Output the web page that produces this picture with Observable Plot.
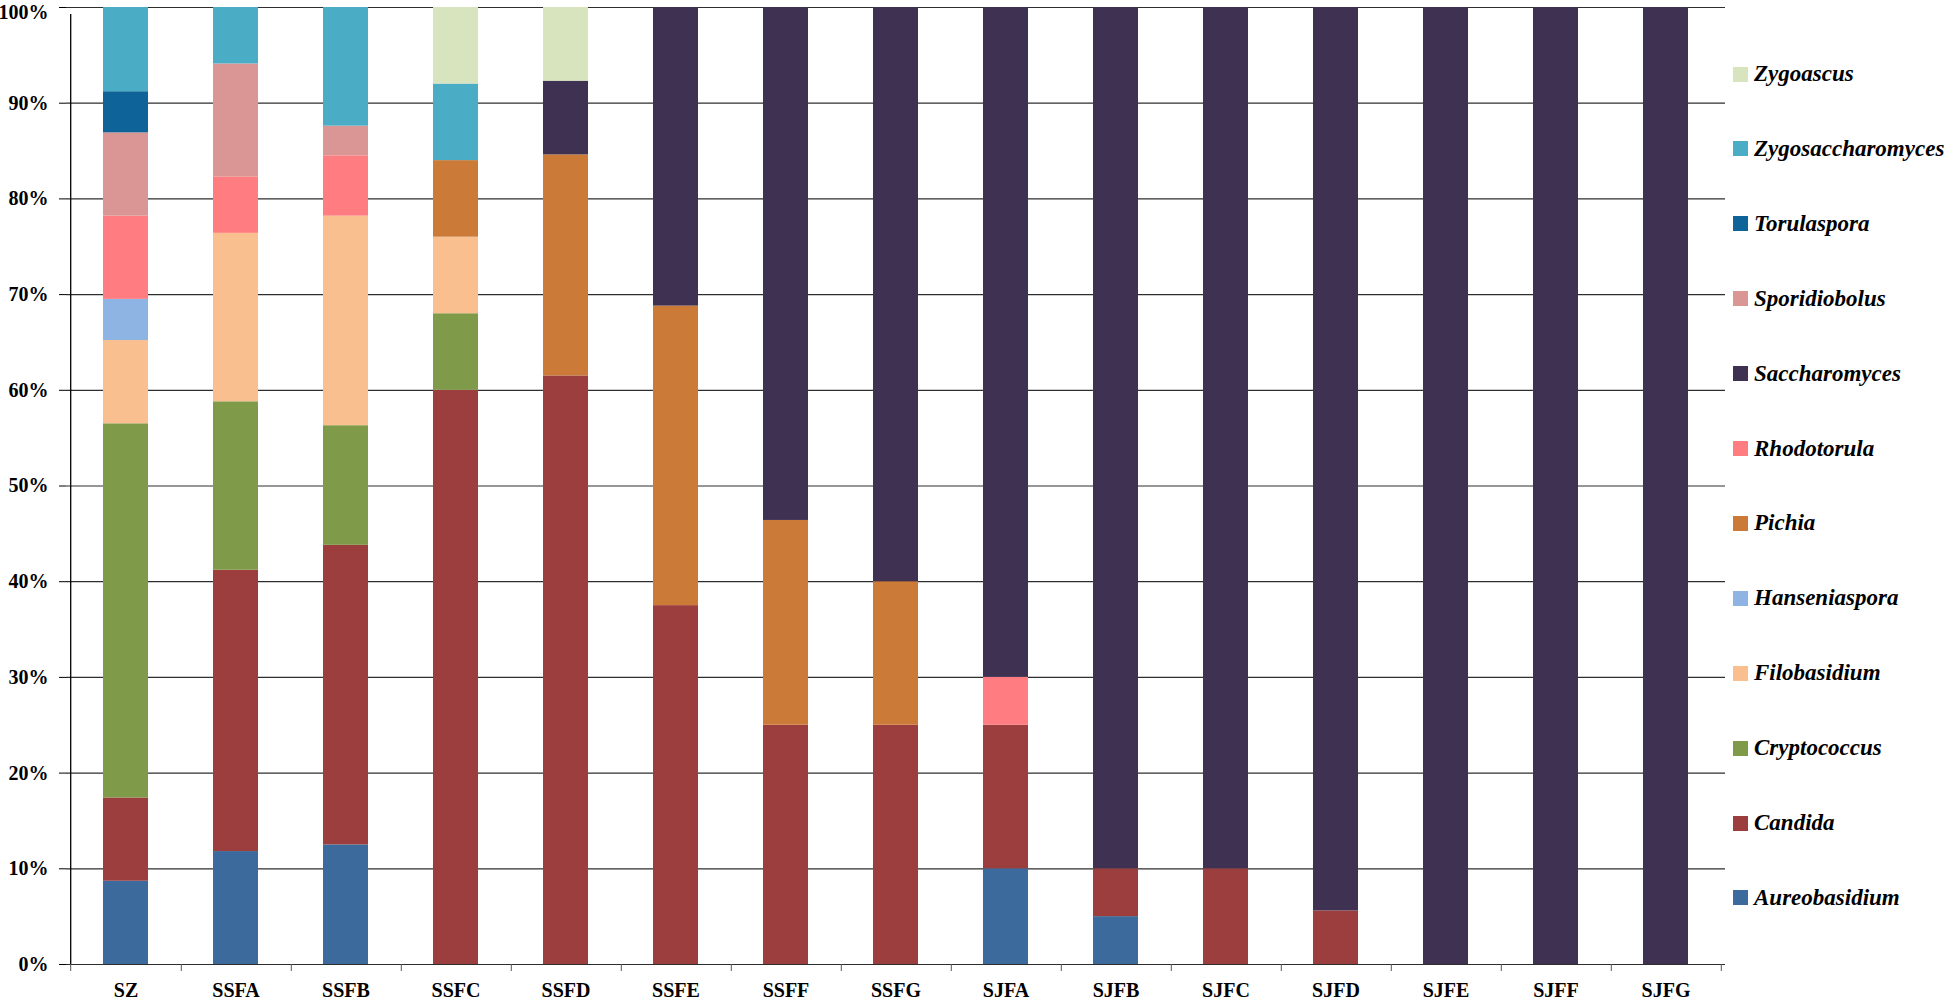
<!DOCTYPE html>
<html>
<head>
<meta charset="utf-8">
<script src="https://cdn.jsdelivr.net/npm/d3@7"></script>
<script src="https://cdn.jsdelivr.net/npm/@observablehq/plot@0.6"></script>
<style>
html, body { margin: 0; padding: 0; background: #fff; }
#wrap { position: relative; width: 1950px; height: 1003px; overflow: hidden; }
#chart { position: absolute; left: 0; top: 0; }
#legend { position: absolute; left: 0; top: 0; }
.item { position: absolute; display: flex; align-items: center; height: 22px; line-height: 22px;
  font-family: "Liberation Serif", "Times New Roman", serif; font-weight: bold; font-style: italic;
  font-size: 23px; color: #000; white-space: nowrap; }
.sw { width: 15px; height: 15px; margin-right: 6px; flex: none; }
</style>
</head>
<body>
<div id="wrap"><div id="chart"></div><div id="legend"></div></div>
<script>
// Samples (x categories)
const samples = ["SZ", "SSFA", "SSFB", "SSFC", "SSFD", "SSFE", "SSFF", "SSFG",
                 "SJFA", "SJFB", "SJFC", "SJFD", "SJFE", "SJFF", "SJFG"];

// Genera in stacking order (bottom to top)
const genera = ["Aureobasidium", "Candida", "Cryptococcus", "Filobasidium", "Hanseniaspora",
                "Pichia", "Rhodotorula", "Saccharomyces", "Sporidiobolus", "Torulaspora",
                "Zygosaccharomyces", "Zygoascus"];

const colors = ["#3d6a9c", "#9c3e3e", "#7f9a48", "#f9bf8f", "#8eb4e3",
                "#cb7a37", "#ff7c80", "#3f3151", "#d99694", "#0e6398",
                "#4bacc6", "#d7e4bd"];

// Relative abundance (%) per sample, one array per genus
const Aureobasidium     = [8.7, 11.8, 12.5, 0, 0, 0, 0, 0, 10, 5, 0, 0, 0, 0, 0];
const Candida           = [8.7, 29.4, 31.3, 60, 61.5, 37.5, 25, 25, 15, 5, 10, 5.6, 0, 0, 0];
const Cryptococcus      = [39.1, 17.6, 12.5, 8, 0, 0, 0, 0, 0, 0, 0, 0, 0, 0, 0];
const Filobasidium      = [8.7, 17.6, 21.9, 8, 0, 0, 0, 0, 0, 0, 0, 0, 0, 0, 0];
const Hanseniaspora     = [4.3, 0, 0, 0, 0, 0, 0, 0, 0, 0, 0, 0, 0, 0, 0];
const Pichia            = [0, 0, 0, 8, 23.1, 31.3, 21.4, 15, 0, 0, 0, 0, 0, 0, 0];
const Rhodotorula       = [8.7, 5.9, 6.3, 0, 0, 0, 0, 0, 5, 0, 0, 0, 0, 0, 0];
const Saccharomyces     = [0, 0, 0, 0, 7.7, 31.2, 53.6, 60, 70, 90, 90, 94.4, 100, 100, 100];
const Sporidiobolus     = [8.7, 11.8, 3.1, 0, 0, 0, 0, 0, 0, 0, 0, 0, 0, 0, 0];
const Torulaspora       = [4.3, 0, 0, 0, 0, 0, 0, 0, 0, 0, 0, 0, 0, 0, 0];
const Zygosaccharomyces = [8.8, 5.9, 12.4, 8, 0, 0, 0, 0, 0, 0, 0, 0, 0, 0, 0];
const Zygoascus         = [0, 0, 0, 8, 7.7, 0, 0, 0, 0, 0, 0, 0, 0, 0, 0];

const series = [Aureobasidium, Candida, Cryptococcus, Filobasidium, Hanseniaspora, Pichia,
                Rhodotorula, Saccharomyces, Sporidiobolus, Torulaspora, Zygosaccharomyces, Zygoascus];

// Y axis ticks (%)
const yTicks = [0, 10, 20, 30, 40, 50, 60, 70, 80, 90, 100];

// Legend order (top to bottom)
const legendOrder = ["Zygoascus", "Zygosaccharomyces", "Torulaspora", "Sporidiobolus", "Saccharomyces",
                     "Rhodotorula", "Pichia", "Hanseniaspora", "Filobasidium", "Cryptococcus",
                     "Candida", "Aureobasidium"];

const table = genera.flatMap((g, gi) => series[gi].map((v, i) => ({sample: samples[i], genus: g, value: v})));

const W = 1730, ML = 66, MR = 5;
const step = (W - ML - MR) / samples.length;
const font = "'Liberation Serif', 'Times New Roman', serif";
const pct = d => d + "%";
const topTick = yTicks[yTicks.length - 1];

const chart = Plot.plot({
  width: W,
  height: 1003,
  marginLeft: ML,
  marginRight: MR,
  marginTop: 7,
  marginBottom: 39,
  style: {fontFamily: font, fontSize: "20px", fontWeight: "bold", color: "#000", background: "#fff", overflow: "visible"},
  x: {domain: samples, paddingInner: 0.59, paddingOuter: 0.295, label: null},
  y: {domain: [0, 100], label: null},
  color: {domain: genera, range: colors},
  marks: [
    Plot.gridY(yTicks, {stroke: "#2e2e2e", strokeOpacity: 1, strokeWidth: 1.2}),
    Plot.barY(table, Plot.stackY({x: "sample", y: "value", fill: "genus"})),
    Plot.ruleY([0], {stroke: "#2e2e2e", strokeWidth: 1.2}),
    Plot.ruleX([samples[0]], {dx: -step / 2, y1: 0, y2: 100, insetBottom: -7, stroke: "#000", strokeWidth: 1.3}),
    Plot.axisY(yTicks, {tickSize: 7, tickPadding: 11, tickFormat: d => d === topTick ? "" : pct(d), label: null, stroke: "#000"}),
    Plot.axisY([topTick], {tickSize: 0, tickPadding: 18, tickFormat: pct, label: null, dy: 5}),
    Plot.axisX({tickSize: 7, dx: step / 2, tickFormat: () => "", label: null, stroke: "#555"}),
    Plot.axisX([samples[0]], {tickSize: 7, dx: -step / 2, tickFormat: () => "", label: null, stroke: "#555"}),
    Plot.axisX({tickSize: 0, tickPadding: 18, label: null})
  ]
});
document.getElementById("chart").appendChild(chart);

// Legend
const legend = document.getElementById("legend");
const colorOf = Object.fromEntries(genera.map((g, i) => [g, colors[i]]));
legendOrder.forEach((g, i) => {
  const item = document.createElement("div");
  item.className = "item";
  item.style.left = "1733px";
  item.style.top = (74 + i * 74.9 - 11) + "px";
  const sw = document.createElement("span");
  sw.className = "sw";
  sw.style.background = colorOf[g];
  const tx = document.createElement("span");
  tx.textContent = g;
  item.appendChild(sw);
  item.appendChild(tx);
  legend.appendChild(item);
});
</script>
</body>
</html>
